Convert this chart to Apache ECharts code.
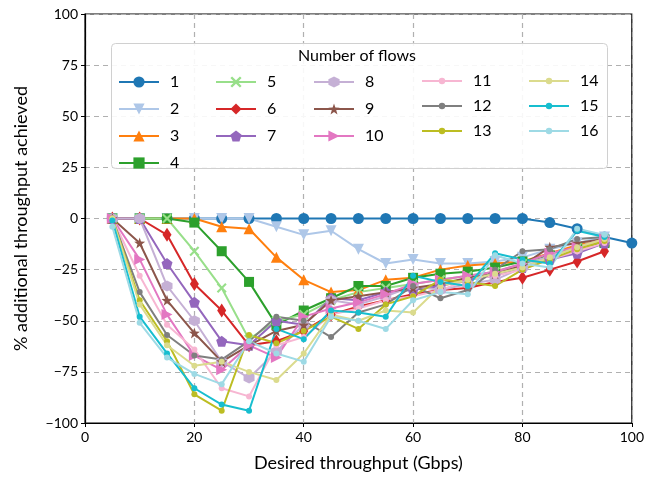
<!DOCTYPE html>
<html>
<head>
<meta charset="utf-8">
<script src="https://cdn.jsdelivr.net/npm/echarts@6/dist/echarts.min.js"></script>
<style>
  html, body { margin: 0; padding: 0; background: #fff; }
  #chart { width: 647px; height: 479px; }
</style>
</head>
<body>
<div id="chart"></div>
<script>
// desired throughput (Gbps)
var xs = [5, 10, 15, 20, 25, 30, 35, 40, 45, 50, 55, 60, 65, 70, 75, 80, 85, 90, 95, 100];
var flowNames = ['1', '2', '3', '4', '5', '6', '7', '8', '9', '10', '11', '12', '13', '14', '15', '16'];

var s1 = [0, 0, 0, 0, 0, 0, 0, 0, 0, 0, 0, 0, 0, 0, 0, 0, -2, -5, -9, -12];
var s2 = [0, 0, 0, 0, 0, 0, -4, -8, -6, -15, -22, -20, -22, -22, -21, -19, -15, -12, -9];
var s3 = [0, 0, 0, 0, -4, -5, -19, -30, -36, -35, -30, -29, -25, -23, -22, -21, -17, -13, -11];
var s4 = [0, 0, 0, -2, -16, -31, -52, -45, -39, -33, -33, -29, -27, -26, -24, -21, -18, -14, -12];
var s5 = [0, 0, 0, -16, -34, -59, -50, -47, -40, -36, -34, -32, -30, -28, -26, -22, -19, -14, -10];
var s6 = [0, 0, -8, -32, -45, -62, -60, -55, -47, -43, -40, -37, -35, -34, -31, -29, -25, -21, -16];
var s7 = [0, 0, -22, -41, -60, -62, -50, -52, -39, -40, -36, -35, -33, -30, -28, -24, -20, -17, -12];
var s8 = [0, 0, -33, -50, -70, -78, -65, -52, -40, -42, -38, -33, -35, -32, -30, -24, -18, -15, -10];
var s9 = [0, -12, -40, -56, -70, -62, -55, -52, -40, -38, -36, -34, -32, -29, -27, -23, -14, -12, -10];
var s10 = [0, -20, -47, -67, -74, -62, -68, -48, -44, -41, -37, -32, -30, -28, -26, -22, -17, -14, -10];
var s11 = [0, -28, -52, -64, -83, -87, -62, -58, -47, -44, -40, -38, -35, -30, -28, -25, -20, -16, -12];
var s12 = [0, -36, -57, -67, -69, -60, -48, -50, -58, -46, -42, -33, -39, -35, -25, -16, -15, -10, -9];
var s13 = [0, -40, -60, -86, -94, -57, -61, -55, -48, -54, -42, -38, -30, -31, -33, -25, -20, -15, -11];
var s14 = [0, -42, -62, -72, -70, -75, -79, -66, -47, -50, -45, -46, -33, -30, -27, -24, -19, -14, -10];
var s15 = [-1, -48, -66, -83, -91, -94, -54, -59, -45, -46, -48, -28, -31, -33, -17, -20, -22, -6, -9];
var s16 = [-4, -51, -68, -76, -81, -60, -66, -70, -48, -50, -54, -40, -36, -37, -18, -22, -24, -5, -8];

var allSeries = [s1, s2, s3, s4, s5, s6, s7, s8, s9, s10, s11, s12, s13, s14, s15, s16];

var colors = ['#1f77b4', '#aec7e8', '#ff7f0e', '#2ca02c', '#98df8a', '#d62728', '#9467bd', '#c5b0d5',
              '#8c564b', '#e377c2', '#f7b6d2', '#7f7f7f', '#bcbd22', '#dbdb8d', '#17becf', '#9edae5'];

var symbols = [
  'circle',
  'path://M0,0L10,0L5,9Z',
  'path://M5,0L10,9L0,9Z',
  'rect',
  'path://M0,1.5L1.5,0L5,3.5L8.5,0L10,1.5L6.5,5L10,8.5L8.5,10L5,6.5L1.5,10L0,8.5L3.5,5Z',
  'diamond',
  'path://M5,0L10,3.8L8.1,10L1.9,10L0,3.8Z',
  'path://M5,0L9.33,2.5L9.33,7.5L5,10L0.67,7.5L0.67,2.5Z',
  'path://M5,0L6.2,3.5L10,3.6L7,5.9L8.1,9.5L5,7.4L1.9,9.5L3,5.9L0,3.6L3.8,3.5Z',
  'path://M0,0L9,5L0,10Z',
  'circle', 'circle', 'circle', 'circle', 'circle', 'circle'
];
var sizes = [11, 11, 11, 10, 10, [9, 14], 11, 11, 11, 11, 6, 6, 6, 6, 6, 6];

var series = allSeries.map(function (vals, i) {
  return {
    name: flowNames[i],
    type: 'line',
    data: vals.map(function (v, j) { return [xs[j], v]; }),
    symbol: symbols[i],
    symbolSize: sizes[i],
    showAllSymbol: true,
    color: colors[i],
    lineStyle: { width: 2 },
    itemStyle: { borderWidth: 0 },
    emphasis: { disabled: true },
    animation: false
  };
});

var minus = function (v) { return String(v).replace('-', '\u2212'); };

// legend columns (column-major like matplotlib ncol=5)
var legendCols = [['1', '2', '3', '4'], ['5', '6', '7'], ['8', '9', '10'], ['11', '12', '13'], ['14', '15', '16']];
var colLeft = [118, 215, 313, 421, 528];
var legends = legendCols.map(function (names, k) {
  var dots = k >= 3;
  return {
    data: names,
    orient: 'vertical',
    left: colLeft[k],
    top: dots ? 73 : 74,
    z: 10,
    itemWidth: 40,
    itemHeight: dots ? 8 : 14,
    itemGap: dots ? 9 : 11,
    selectedMode: false,
    textStyle: { fontFamily: 'Lato', fontSize: 16, color: '#000', padding: [0, 0, 0, 6], lineHeight: 8 },
    padding: 0
  };
});

var chart = echarts.init(document.getElementById('chart'));
chart.setOption({
  animation: false,
  textStyle: { fontFamily: 'Lato' },
  grid: { left: 85, right: 14, top: 14, bottom: 56, show: true, borderColor: '#000', borderWidth: 1.2, backgroundColor: 'transparent' },
  legend: legends,
  graphic: [
    { type: 'rect', left: 111, top: 43, z: 3, shape: { width: 496, height: 125, r: 4 },
      style: { fill: 'rgba(255,255,255,0.9)', stroke: '#d0d0d0', lineWidth: 1 } },
    { type: 'text', left: 298, top: 48, z: 11,
      style: { text: 'Number of flows', fontFamily: 'Lato', fontSize: 16, fill: '#000' } }
  ],
  xAxis: {
    type: 'value', min: 0, max: 100, interval: 20,
    name: 'Desired throughput (Gbps)', nameLocation: 'middle', nameGap: 31,
    nameTextStyle: { fontFamily: 'Lato', fontSize: 18, color: '#000' },
    axisLine: { show: true, onZero: false, lineStyle: { color: '#000', width: 1.2 } },
    axisTick: { show: true, length: 4, lineStyle: { color: '#000' } },
    axisLabel: { fontFamily: 'Lato', fontSize: 14, color: '#000', margin: 7, formatter: minus },
    splitLine: { show: true, lineStyle: { type: [5, 4], color: '#b0b0b0', width: 1.2 } }
  },
  yAxis: {
    type: 'value', min: -100, max: 100, interval: 25,
    name: '% additional throughput achieved', nameLocation: 'middle', nameGap: 55,
    nameTextStyle: { fontFamily: 'Lato', fontSize: 18, color: '#000' },
    axisLine: { show: true, onZero: false, lineStyle: { color: '#000', width: 1.2 } },
    axisTick: { show: true, length: 4, lineStyle: { color: '#000' } },
    axisLabel: { fontFamily: 'Lato', fontSize: 14, color: '#000', margin: 7, formatter: minus },
    splitLine: { show: true, lineStyle: { type: [5, 4], color: '#b0b0b0', width: 1.2 } }
  },
  series: series
});
</script>
</body>
</html>
